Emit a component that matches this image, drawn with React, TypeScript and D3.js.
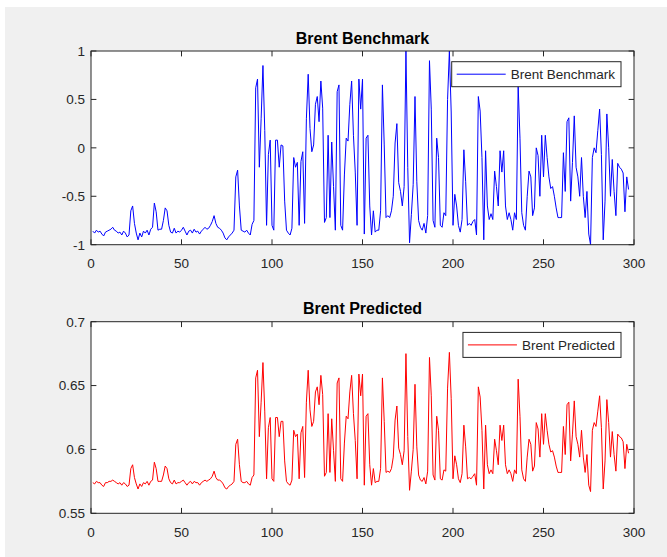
import React from "react";
import * as d3 from "d3";

// ---- data (index 1..297) ----
const benchmark: number[] = [
  -0.86,-0.88,-0.85,-0.87,-0.86,-0.89,-0.91,-0.87,-0.86,-0.85,-0.84,-0.82,-0.85,-0.86,-0.88,-0.87,-0.9,-0.86,-0.88,-0.92,-0.9,
  -0.65,-0.6,-0.78,-0.88,-0.95,-0.88,-0.92,-0.86,-0.88,-0.85,-0.9,-0.84,-0.82,-0.57,-0.66,-0.85,-0.84,-0.84,-0.75,-0.62,-0.65,-0.8,
  -0.87,-0.88,-0.83,-0.88,-0.86,-0.87,-0.85,-0.82,-0.86,-0.9,-0.86,-0.85,-0.88,-0.84,-0.87,-0.86,-0.89,-0.86,-0.84,-0.82,-0.84,-0.83,-0.8,
  -0.76,-0.7,-0.78,-0.82,-0.83,-0.85,-0.88,-0.93,-0.95,-0.92,-0.9,-0.88,-0.85,-0.3,-0.23,-0.6,
  -0.85,-0.86,-0.87,-0.85,-0.88,-0.9,-0.79,-0.75,0.62,0.71,-0.2,0.3,0.85,0.18,-0.8,-0.07,0.08,-0.8,-0.85,0.08,0.08,-0.2,0.03,0.02,-0.55,-0.85,-0.88,-0.9,-0.83,-0.1,-0.2,-0.15,-0.8,-0.14,-0.04,-0.78,0.3,
  0.76,0.2,-0.04,0.03,0.45,0.53,0.27,0.69,0.41,-0.77,-0.72,0.13,-0.72,0.06,-0.4,-0.85,0.58,0.65,-0.8,-0.85,-0.28,0.1,0.07,0.45,0.69,0.13,-0.25,-0.8,0.71,0.4,0.71,-0.89,0.1,0.13,-0.6,-0.9,-0.65,-0.87,-0.85,-0.85,-0.65,0.65,0.03,-0.72,-0.7,-0.72,-0.65,-0.5,0.05,0.25,-0.36,-0.45,-0.6,-0.4,1.0,-0.2,-0.98,-0.69,-0.38,0.53,-0.35,-0.75,-0.82,
  -0.85,-0.78,-0.88,-0.7,0.9,0.4,-0.75,-0.82,0.1,-0.1,-0.8,-0.82,-0.67,-0.7,0.5,1.0,0.37,-0.8,-0.48,-0.6,-0.8,-0.87,-0.74,-0.02,-0.35,-0.8,-0.78,-0.8,-0.76,-0.74,-0.9,0.53,0.38,-0.1,-0.95,-0.03,-0.6,-0.74,-0.68,-0.74,-0.24,-0.4,-0.6,-0.03,-0.25,-0.03,-0.6,-0.74,-0.67,-0.74,-0.85,-0.67,-0.74,0.64,0.1,-0.67,-0.8,-0.85,-0.5,-0.24,-0.3,
  -0.7,-0.62,0.0,-0.08,-0.5,0.13,-0.3,0.13,-0.1,-0.3,-0.42,-0.4,-0.5,-0.62,-0.72,-0.72,-0.72,-0.05,-0.45,0.27,0.31,-0.55,-0.15,0.33,-0.2,-0.3,-0.5,-0.1,-0.5,-0.72,-0.45,-0.89,-1.0,-0.1,0.0,-0.05,0.18,0.4,-0.07,-0.95,-0.55,0.35,0.0,-0.5,-0.12,-0.45,-0.7,-0.16,-0.2,-0.22,-0.26,-0.66,-0.3,-0.43,
];

const predicted: number[] = [
  0.574,0.573,0.575,0.574,0.574,0.572,0.571,0.574,0.574,0.575,0.575,0.576,0.575,0.574,0.573,0.574,0.572,0.574,0.573,0.571,0.572,
  0.585,0.588,0.578,0.573,0.569,0.573,0.571,0.574,0.573,0.575,0.572,0.575,0.576,0.590,0.585,0.575,0.575,0.575,0.580,0.587,0.585,0.577,
  0.574,0.573,0.576,0.573,0.574,0.574,0.575,0.576,0.574,0.572,0.574,0.575,0.573,0.575,0.574,0.574,0.572,0.574,0.575,0.576,0.575,0.576,0.577,
  0.579,0.583,0.578,0.576,0.576,0.575,0.573,0.570,0.569,0.571,0.572,0.573,0.575,0.604,0.608,0.588,
  0.575,0.574,0.574,0.575,0.573,0.572,0.578,0.580,0.656,0.662,0.610,0.637,0.668,0.630,0.577,0.617,0.625,0.577,0.575,0.625,0.625,0.610,0.622,0.622,0.591,0.575,0.573,0.572,0.576,0.615,0.610,0.612,0.577,0.613,0.618,0.578,0.637,
  0.662,0.631,0.618,0.622,0.645,0.649,0.635,0.658,0.643,0.579,0.582,0.628,0.582,0.624,0.599,0.575,0.652,0.656,0.577,0.575,0.605,0.626,0.624,0.645,0.658,0.628,0.607,0.577,0.659,0.642,0.659,0.572,0.626,0.628,0.588,0.572,0.585,0.574,0.575,0.575,0.585,0.656,0.622,0.582,0.583,0.582,0.585,0.594,0.623,0.634,0.601,0.596,0.588,0.599,0.675,0.610,0.568,0.583,0.600,0.651,0.602,0.580,0.576,
  0.575,0.578,0.573,0.583,0.672,0.642,0.580,0.576,0.626,0.615,0.577,0.576,0.584,0.583,0.648,0.676,0.640,0.577,0.595,0.588,0.577,0.574,0.581,0.619,0.602,0.577,0.578,0.577,0.579,0.581,0.572,0.649,0.641,0.615,0.569,0.619,0.588,0.581,0.584,0.581,0.608,0.599,0.588,0.619,0.607,0.619,0.588,0.581,0.584,0.581,0.575,0.584,0.581,0.655,0.626,0.584,0.577,0.575,0.594,0.608,0.604,
  0.583,0.587,0.621,0.616,0.594,0.628,0.604,0.628,0.615,0.604,0.598,0.599,0.594,0.587,0.582,0.582,0.582,0.618,0.596,0.635,0.637,0.591,0.612,0.638,0.610,0.604,0.594,0.615,0.594,0.582,0.596,0.572,0.567,0.615,0.621,0.618,0.630,0.642,0.617,0.569,0.591,0.639,0.621,0.594,0.614,0.596,0.583,0.612,0.610,0.609,0.606,0.585,0.604,0.597,
];

const xTicks = [0, 50, 100, 150, 200, 250, 300];
const yTicks1 = [-1, -0.5, 0, 0.5, 1];
const yTicks2 = [0.55, 0.6, 0.65, 0.7];
const title1 = "Brent Benchmark";
const title2 = "Brent Predicted";

const W = 667;
const H = 557;
const AX_COLOR = "#262626";
const FONT = "'Liberation Sans', Arial, Helvetica, sans-serif";
const TICK_FS = 13.5;
const LEG_FS = 13.5;
const TITLE_FS = 16;

function measure(text: string, font: string): number {
  try {
    const c = document.createElement("canvas");
    const ctx = c.getContext("2d");
    if (ctx) {
      ctx.font = font;
      return ctx.measureText(text).width;
    }
  } catch (e) {}
  return text.length * 7;
}

type PanelProps = {
  values: number[];
  color: string;
  title: string;
  yDomain: [number, number];
  yTicks: number[];
  top: number;
  bottom: number;
};

function Panel({ values, color, title, yDomain, yTicks, top, bottom }: PanelProps) {
  const left = 91;
  const right = 634;
  const x = d3.scaleLinear().domain([0, 300]).range([left, right]);
  const y = d3.scaleLinear().domain(yDomain).range([bottom, top]);
  const line = d3
    .line<number>()
    .x((_, i) => x(i + 1))
    .y((d) => y(d));
  const tl = 5.4;
  const clipId = "clip-" + title.replace(/\s/g, "");

  const legFont = `${LEG_FS}px 'Liberation Sans'`;
  const tw = measure(title, legFont);
  const legRight = right - 13;
  const legTop = top + 10.7;
  const legH = 25;
  const legW = 5 + 49 + 5 + tw + 6;
  const legLeft = legRight - legW;

  return (
    <g>
      <defs>
        <clipPath id={clipId}>
          <rect x={left} y={top} width={right - left} height={bottom - top} />
        </clipPath>
      </defs>
      <rect x={left} y={top} width={right - left} height={bottom - top} fill="#ffffff" />
      <path
        d={line(values) || ""}
        fill="none"
        stroke={color}
        strokeWidth={1}
        strokeLinejoin="round"
        clipPath={`url(#${clipId})`}
      />
      {/* ticks */}
      {xTicks.map((t) => (
        <g key={"xt" + t}>
          <line x1={x(t)} x2={x(t)} y1={bottom} y2={bottom - tl} stroke={AX_COLOR} strokeWidth={1} />
          <line x1={x(t)} x2={x(t)} y1={top} y2={top + tl} stroke={AX_COLOR} strokeWidth={1} />
          <text
            x={x(t)}
            y={bottom + 23.5}
            textAnchor="middle"
            fontSize={TICK_FS}
            fill={AX_COLOR}
            fontFamily={FONT}
          >
            {String(t)}
          </text>
        </g>
      ))}
      {yTicks.map((t) => (
        <g key={"yt" + t}>
          <line x1={left} x2={left + tl} y1={y(t)} y2={y(t)} stroke={AX_COLOR} strokeWidth={1} />
          <line x1={right} x2={right - tl} y1={y(t)} y2={y(t)} stroke={AX_COLOR} strokeWidth={1} />
          <text
            x={left - 6}
            y={y(t)}
            dy="0.36em"
            textAnchor="end"
            fontSize={TICK_FS}
            fill={AX_COLOR}
            fontFamily={FONT}
          >
            {String(t)}
          </text>
        </g>
      ))}
      {/* box */}
      <rect
        x={left}
        y={top}
        width={right - left}
        height={bottom - top}
        fill="none"
        stroke={AX_COLOR}
        strokeWidth={1}
      />
      {/* title */}
      <text
        x={(left + right) / 2}
        y={top - 7.5}
        textAnchor="middle"
        fontSize={TITLE_FS}
        fontWeight="bold"
        fill="#000000"
        fontFamily={FONT}
      >
        {title}
      </text>
      {/* legend */}
      <rect x={legLeft} y={legTop} width={legW} height={legH} fill="#ffffff" stroke={AX_COLOR} strokeWidth={1} />
      <line
        x1={legLeft + 5}
        x2={legLeft + 54}
        y1={legTop + legH / 2}
        y2={legTop + legH / 2}
        stroke={color}
        strokeWidth={1}
      />
      <text
        x={legLeft + 59}
        y={legTop + legH / 2}
        dy="0.36em"
        fontSize={LEG_FS}
        fill={AX_COLOR}
        fontFamily={FONT}
      >
        {title}
      </text>
    </g>
  );
}

export default function App() {
  return (
    <svg
      width={W}
      height={H}
      viewBox={`0 0 ${W} ${H}`}
      style={{ position: "absolute", left: 0, top: 0, display: "block" }}
    >
      <rect x={0} y={0} width={W} height={H} fill="#ffffff" />
      <rect x={5} y={7} width={W - 5} height={H - 7} fill="#f0f0f0" />
      <Panel
        values={benchmark}
        color="#0000ff"
        title={title1}
        yDomain={[-1, 1]}
        yTicks={yTicks1}
        top={51}
        bottom={244.7}
      />
      <Panel
        values={predicted}
        color="#ff0000"
        title={title2}
        yDomain={[0.55, 0.7]}
        yTicks={yTicks2}
        top={321.7}
        bottom={513.3}
      />
    </svg>
  );
}
